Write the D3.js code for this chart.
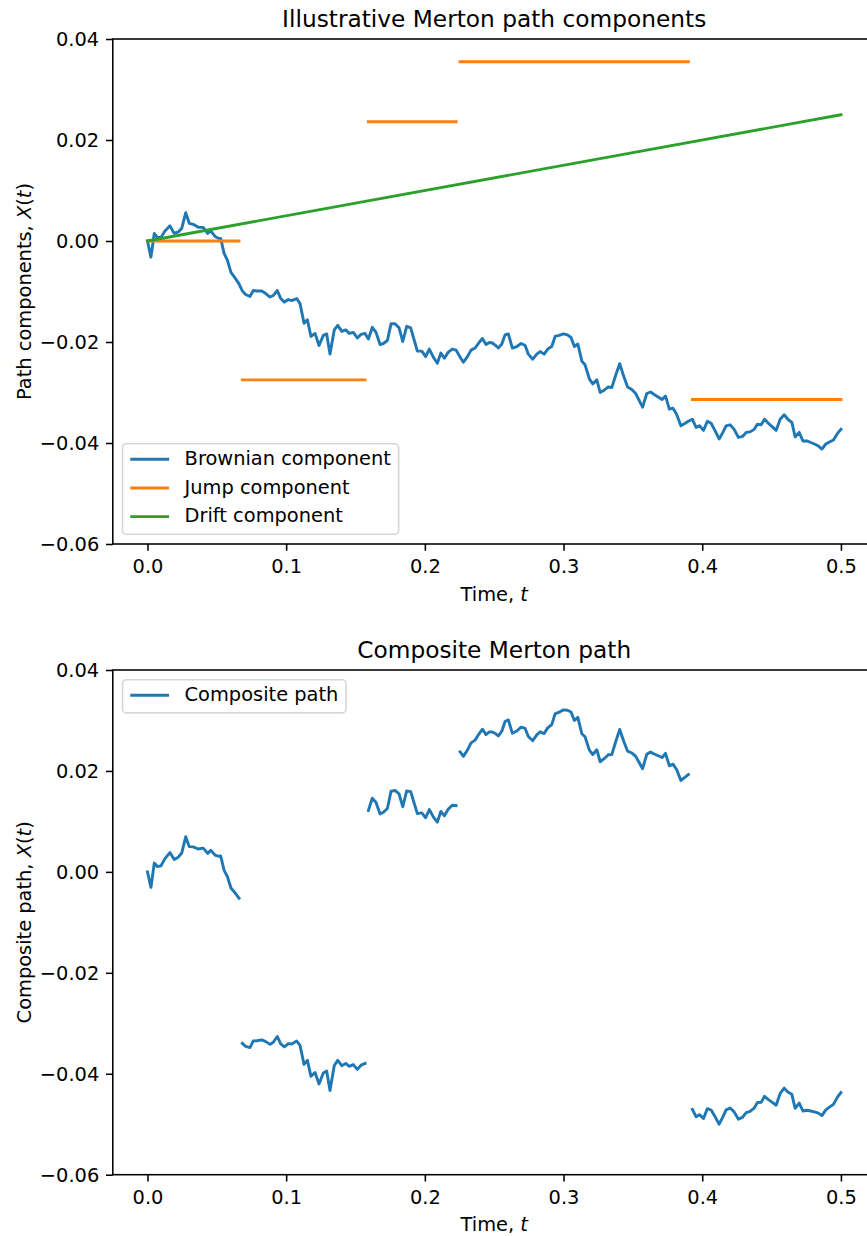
<!DOCTYPE html>
<html>
  <head>
    <meta charset="utf-8">
    <title>Merton path</title>
    <script src="https://cdn.jsdelivr.net/npm/d3@7"></script>
    <style>
      body { margin: 0; background: #fff; }
      svg { display: block; overflow: hidden; font-family: "DejaVu Sans", sans-serif; }
    </style>
  </head>

  <body>
    <svg id="chart" width="867" height="1236"></svg>

    <script>
      // brownian component
      var brownT = [
        0.0000, 0.0025, 0.0049, 0.0071, 0.0097, 0.0126, 0.0162, 0.0193, 0.0222, 0.0247,
        0.0276, 0.0301, 0.0330, 0.0366, 0.0402, 0.0434, 0.0456, 0.0487, 0.0516, 0.0528,
        0.0552, 0.0576, 0.0602, 0.0631, 0.0660, 0.0684, 0.0708, 0.0739, 0.0763, 0.0788,
        0.0824, 0.0853, 0.0884, 0.0907, 0.0936, 0.0961, 0.0987, 0.1016, 0.1040, 0.1076,
        0.1100, 0.1129, 0.1153, 0.1179, 0.1208, 0.1237, 0.1268, 0.1292, 0.1316, 0.1347,
        0.1372, 0.1401, 0.1430, 0.1455, 0.1484, 0.1513, 0.1540, 0.1569, 0.1593, 0.1621,
        0.1648, 0.1677, 0.1701, 0.1730, 0.1756, 0.1785, 0.1814, 0.1841, 0.1869, 0.1898,
        0.1924, 0.1946, 0.1978, 0.2006, 0.2032, 0.2061, 0.2090, 0.2115, 0.2141, 0.2169,
        0.2198, 0.2225, 0.2254, 0.2278, 0.2307, 0.2333, 0.2362, 0.2391, 0.2415, 0.2441,
        0.2465, 0.2487, 0.2511, 0.2530, 0.2555, 0.2578, 0.2602, 0.2631, 0.2663, 0.2694,
        0.2723, 0.2746, 0.2778, 0.2807, 0.2831, 0.2860, 0.2886, 0.2915, 0.2939, 0.2968,
        0.2999, 0.3028, 0.3054, 0.3078, 0.3103, 0.3132, 0.3155, 0.3186, 0.3211, 0.3240,
        0.3264, 0.3295, 0.3323, 0.3348, 0.3377, 0.3405, 0.3434, 0.3462, 0.3492, 0.3520,
        0.3546, 0.3570, 0.3600, 0.3627, 0.3653, 0.3682, 0.3711, 0.3735, 0.3763, 0.3789,
        0.3815, 0.3846, 0.3877, 0.3900, 0.3929, 0.3956, 0.3980, 0.4009, 0.4037, 0.4064,
        0.4093, 0.4122, 0.4149, 0.4172, 0.4201, 0.4230, 0.4261, 0.4290, 0.4317, 0.4345,
        0.4374, 0.4398, 0.4425, 0.4449, 0.4477, 0.4506, 0.4533, 0.4562, 0.4591, 0.4617,
        0.4646, 0.4670, 0.4699, 0.4726, 0.4754, 0.4783, 0.4809, 0.4838, 0.4863, 0.4891,
        0.4917, 0.4946, 0.4975, 0.5000
      ];
      var brownV = [
        0.0000, -0.0032, 0.0015, 0.0007, 0.0007, 0.0020, 0.0030, 0.0015, 0.0018, 0.0025,
        0.0056, 0.0035, 0.0033, 0.0027, 0.0027, 0.0015, 0.0020, 0.0009, 0.0005, 0.0005,
        -0.0024, -0.0038, -0.0062, -0.0073, -0.0085, -0.0099, -0.0106, -0.0110, -0.0098, -0.0099,
        -0.0099, -0.0104, -0.0111, -0.0108, -0.0098, -0.0114, -0.0121, -0.0116, -0.0118, -0.0114,
        -0.0124, -0.0163, -0.0156, -0.0189, -0.0183, -0.0207, -0.0187, -0.0184, -0.0224, -0.0176,
        -0.0167, -0.0179, -0.0176, -0.0183, -0.0181, -0.0192, -0.0185, -0.0183, -0.0194, -0.0171,
        -0.0181, -0.0205, -0.0203, -0.0197, -0.0164, -0.0164, -0.0172, -0.0199, -0.0169, -0.0172,
        -0.0197, -0.0218, -0.0218, -0.0229, -0.0214, -0.0230, -0.0242, -0.0222, -0.0232, -0.0220,
        -0.0214, -0.0216, -0.0230, -0.0240, -0.0229, -0.0216, -0.0212, -0.0201, -0.0193, -0.0205,
        -0.0201, -0.0202, -0.0207, -0.0212, -0.0204, -0.0186, -0.0184, -0.0212, -0.0209, -0.0203,
        -0.0207, -0.0224, -0.0234, -0.0224, -0.0219, -0.0224, -0.0214, -0.0209, -0.0189, -0.0187,
        -0.0184, -0.0186, -0.0191, -0.0209, -0.0204, -0.0238, -0.0245, -0.0273, -0.0283, -0.0275,
        -0.0300, -0.0295, -0.0289, -0.0290, -0.0265, -0.0243, -0.0268, -0.0289, -0.0294, -0.0302,
        -0.0316, -0.0329, -0.0302, -0.0299, -0.0304, -0.0309, -0.0314, -0.0307, -0.0333, -0.0331,
        -0.0343, -0.0366, -0.0361, -0.0357, -0.0353, -0.0369, -0.0366, -0.0375, -0.0357, -0.0361,
        -0.0376, -0.0392, -0.0379, -0.0366, -0.0364, -0.0373, -0.0389, -0.0387, -0.0379, -0.0378,
        -0.0373, -0.0363, -0.0364, -0.0353, -0.0361, -0.0368, -0.0375, -0.0353, -0.0344, -0.0353,
        -0.0359, -0.0388, -0.0379, -0.0396, -0.0396, -0.0399, -0.0402, -0.0406, -0.0412, -0.0402,
        -0.0398, -0.0394, -0.0381, -0.0373
      ];

      // jump component: jump times and the level held between them
      var jumpTimes = [0.0670, 0.1585, 0.2245, 0.3915];
      var jumpLevels = [0.0000, -0.0275, 0.0236, 0.0355, -0.0314];

      // drift component (straight line)
      var driftT = [0, 0.5];
      var driftV = [0, 0.025];

      // ticks
      var xTicks = [0, 0.1, 0.2, 0.3, 0.4, 0.5];
      var yTicks = [-0.06, -0.04, -0.02, 0, 0.02, 0.04];
      var xDomain = [-0.025, 0.525];
      var yDomain = [-0.06, 0.04];

      var colours = { blue: "#1f77b4", orange: "#ff7f0e", green: "#2ca02c" };

      // sizes (matplotlib points scaled to this picture)
      var pt = 1.94;
      var fontSize = 10 * pt;
      var titleSize = 12 * pt;
      var lineWidth = 1.5 * pt;
      var spineWidth = 0.8 * pt;
      var tickLen = 3.5 * pt;

      var svg = d3.select("#chart");

      // split the path into segments between jumps
      var bounds = [-Infinity].concat(jumpTimes).concat([Infinity]);
      var drift = d3.scaleLinear().domain(driftT).range(driftV);
      var points = brownT.map(function(t, i) { return { t: t, v: brownV[i] }; });
      var segments = jumpLevels.map(function(level, k) {
        return points.filter(function(p) { return p.t >= bounds[k] && p.t < bounds[k + 1]; })
          .map(function(p) { return { t: p.t, v: p.v, level: level, comp: p.v + drift(p.t) + level }; });
      });

      var panels = [
        { top: 39, bottom: 544, title: "Illustrative Merton path components", ylabel: "Path components, " },
        { top: 670, bottom: 1174.7, title: "Composite Merton path", ylabel: "Composite path, " }
      ];
      var left = 112.8, right = 875.6;

      panels.forEach(function(p) {
        p.x = d3.scaleLinear().domain(xDomain).range([left, right]);
        p.y = d3.scaleLinear().domain(yDomain).range([p.bottom, p.top]);
        p.g = svg.append("g");
      });

      function line(panel, key) {
        return d3.line()
          .x(function(d) { return panel.x(d.t); })
          .y(function(d) { return panel.y(d[key]); });
      }

      // top panel: components
      var upper = panels[0];
      var linesTop = upper.g.append("g")
        .attr("fill", "none")
        .attr("stroke-width", lineWidth)
        .attr("stroke-linecap", "square")
        .attr("stroke-linejoin", "round");
      linesTop.append("path")
        .datum(points)
        .attr("stroke", colours.blue)
        .attr("d", line(upper, "v"));
      linesTop.selectAll(".jump")
        .data(segments)
        .enter().append("path")
          .classed("jump", true)
          .attr("stroke", colours.orange)
          .attr("d", function(seg) {
            return line(upper, "level")([seg[0], seg[seg.length - 1]]);
          });
      linesTop.append("path")
        .datum(driftT.map(function(t, i) { return { t: t, v: driftV[i] }; }))
        .attr("stroke", colours.green)
        .attr("d", line(upper, "v"));

      // bottom panel: composite
      var lower = panels[1];
      lower.g.append("g")
        .attr("fill", "none")
        .attr("stroke-width", lineWidth)
        .attr("stroke-linecap", "square")
        .attr("stroke-linejoin", "round")
        .selectAll("path")
          .data(segments)
        .enter().append("path")
          .attr("stroke", colours.blue)
          .attr("d", function(seg) { return line(lower, "comp")(seg); });

      // axes, spines, titles and labels
      panels.forEach(function(p) {
        var xAxis = p.g.append("g")
          .attr("transform", "translate(0," + p.bottom + ")")
          .call(d3.axisBottom(p.x).tickValues(xTicks).tickFormat(d3.format(".1f")).tickSize(tickLen).tickSizeOuter(0));
        var yAxis = p.g.append("g")
          .attr("transform", "translate(" + left + ",0)")
          .call(d3.axisLeft(p.y).tickValues(yTicks).tickFormat(d3.format(".2f")).tickSize(tickLen).tickSizeOuter(0));
        [xAxis, yAxis].forEach(function(a) {
          a.select(".domain").remove();
          a.attr("font-family", null).attr("font-size", fontSize);
          a.selectAll("line").attr("stroke", "#000").attr("stroke-width", spineWidth);
          a.selectAll("text").attr("fill", "#000");
        });
        xAxis.selectAll("text").attr("y", 29).attr("dy", null);
        yAxis.selectAll("text").attr("x", -2 * tickLen).attr("dy", "0.36em");

        // spines
        p.g.append("rect")
          .attr("x", left)
          .attr("y", p.top)
          .attr("width", right - left)
          .attr("height", p.bottom - p.top)
          .attr("fill", "none")
          .attr("stroke", "#000")
          .attr("stroke-width", spineWidth);

        p.g.append("text")
          .attr("x", (left + right) / 2)
          .attr("y", p.top - 6 * pt)
          .attr("text-anchor", "middle")
          .attr("font-size", titleSize)
          .text(p.title);

        var xl = p.g.append("text")
          .attr("x", (left + right) / 2)
          .attr("y", p.bottom + 56.5)
          .attr("text-anchor", "middle")
          .attr("font-size", fontSize);
        xl.append("tspan").text("Time, ");
        xl.append("tspan").attr("font-style", "italic").text("t");

        var yl = p.g.append("text")
          .attr("transform", "translate(31," + (p.top + p.bottom) / 2 + ") rotate(-90)")
          .attr("text-anchor", "middle")
          .attr("font-size", fontSize);
        yl.append("tspan").text(p.ylabel);
        yl.append("tspan").attr("font-style", "italic").text("X");
        yl.append("tspan").text("(");
        yl.append("tspan").attr("font-style", "italic").text("t");
        yl.append("tspan").text(")");
      });

      // legends
      function legend(g, items, x0, y0) {
        var pad = 0.4 * fontSize, handle = 2 * fontSize, gap = 0.8 * fontSize;
        var rowStart = 0.8 * fontSize, rowStep = 1.48 * fontSize, rowEnd = 0.91 * fontSize;
        var box = g.append("rect");
        var rows = g.selectAll(".row")
          .data(items)
          .enter().append("g")
            .classed("row", true)
            .attr("transform", function(d, i) { return "translate(0," + (y0 + rowStart + i * rowStep) + ")"; });
        rows.append("line")
          .attr("x1", x0 + pad + lineWidth / 2)
          .attr("x2", x0 + pad + handle - lineWidth / 2)
          .attr("stroke", function(d) { return d.colour; })
          .attr("stroke-width", lineWidth)
          .attr("stroke-linecap", "square");
        rows.append("text")
          .attr("x", x0 + pad + handle + gap)
          .attr("y", 0.3 * fontSize)
          .attr("font-size", fontSize)
          .text(function(d) { return d.label; });
        var maxW = d3.max(rows.selectAll("text").nodes(), function(n) { return n.getComputedTextLength(); });
        var h = rowStart + (items.length - 1) * rowStep + rowEnd;
        box.attr("x", x0)
          .attr("y", y0)
          .attr("width", pad + handle + gap + maxW + pad)
          .attr("height", h)
          .attr("rx", 0.2 * fontSize)
          .attr("fill", "rgba(255,255,255,0.8)")
          .attr("stroke", "rgba(204,204,204,0.8)")
          .attr("stroke-width", spineWidth);
        return h;
      }

      var upperItems = [
        { label: "Brownian component", colour: colours.blue },
        { label: "Jump component", colour: colours.orange },
        { label: "Drift component", colour: colours.green }
      ];
      var legendPad = 0.5 * fontSize;
      var hUpper = 0.8 * fontSize + 2 * 1.48 * fontSize + 0.91 * fontSize;
      legend(upper.g.append("g"), upperItems, left + legendPad, upper.bottom - legendPad - hUpper);
      legend(lower.g.append("g"), [{ label: "Composite path", colour: colours.blue }], left + legendPad, lower.top + legendPad);
    </script>
  </body>
</html>
